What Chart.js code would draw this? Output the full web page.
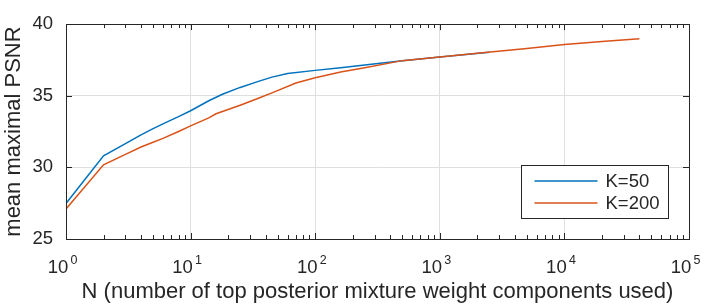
<!DOCTYPE html>
<html>
<head>
<meta charset="utf-8">
<script src="https://cdn.jsdelivr.net/npm/chart.js@4.4.1/dist/chart.umd.min.js"></script>
<style>
  html, body { margin: 0; padding: 0; background: #fff; }
  #wrap { width: 706px; height: 307px; }
</style>
</head>
<body>
<div id="wrap"><canvas id="canvas" width="706" height="307"></canvas></div>
<script>
// values
var k50N = [1, 2, 3, 4, 5, 6, 8, 10, 14, 18, 25, 35, 45, 60, 100, 160, 250, 500, 1000, 2500];
var k50Psnr = [27.48, 30.80, 31.66, 32.27, 32.70, 33.04, 33.54, 33.95, 34.65, 35.1, 35.58, 36.0, 36.3, 36.55, 36.77, 36.95, 37.15, 37.45, 37.7, 38.03];
var k200N = [1, 2, 3, 4, 5, 6, 8, 10, 14, 16, 25, 35, 45, 70, 100, 160, 250, 500, 1000, 2000, 5000, 10000, 20000, 40000];
var k200Psnr = [27.1, 30.18, 30.91, 31.42, 31.75, 32.02, 32.5, 32.9, 33.45, 33.74, 34.34, 34.82, 35.2, 35.89, 36.26, 36.66, 36.95, 37.45, 37.7, 37.96, 38.3, 38.58, 38.78, 38.98];

var xDecades = [1, 10, 100, 1000, 10000, 100000];
var yTicks = [25, 30, 35, 40];
var seriesLabels = ['K=50', 'K=200'];
var seriesColors = ['#0072bd', '#d95319'];

var axisColor = '#262626';
var gridColor = '#dfdfdf';
var fontFamily = "'Liberation Sans', Arial, sans-serif";

function toPoints(xs, ys) {
    return xs.map(function (x, i) { return {x: x, y: ys[i]}; });
}

var matlabAxes = {
    id: 'matlabAxes',
    afterDraw: function (chart) {
        var ctx = chart.ctx;
        var a = chart.chartArea;
        var xs = chart.scales.x;
        var ys = chart.scales.y;
        var maxX = xDecades[xDecades.length - 1];
        ctx.save();
        ctx.strokeStyle = axisColor;
        ctx.lineWidth = 1;

        // inner tick marks, top and bottom, left and right
        ctx.beginPath();
        for (var d = 0; d < xDecades.length; d++) {
            for (var m = 1; m < 10; m++) {
                var v = xDecades[d] * m;
                if (v > maxX) break;
                var px = Math.round(xs.getPixelForValue(v)) + 0.5;
                var len = (m == 1) ? 6 : 4;
                ctx.moveTo(px, a.bottom);
                ctx.lineTo(px, a.bottom - len);
                ctx.moveTo(px, a.top);
                ctx.lineTo(px, a.top + len);
            }
        }
        yTicks.forEach(function (t) {
            var py = Math.round(ys.getPixelForValue(t)) + 0.5;
            ctx.moveTo(a.left, py);
            ctx.lineTo(a.left + 6, py);
            ctx.moveTo(a.right, py);
            ctx.lineTo(a.right - 6, py);
        });
        ctx.stroke();

        ctx.strokeRect(Math.round(a.left) + 0.5, Math.round(a.top) + 0.5,
            Math.round(a.right - a.left), Math.round(a.bottom - a.top));

        // x tick labels as 10 with a raised exponent
        ctx.fillStyle = axisColor;
        ctx.textAlign = 'left';
        ctx.textBaseline = 'alphabetic';
        xDecades.forEach(function (v) {
            var px = xs.getPixelForValue(v);
            ctx.font = '18.5px ' + fontFamily;
            ctx.fillText('10', px - 18.3, a.bottom + 34);
            ctx.font = '12.5px ' + fontFamily;
            ctx.fillText(String(Math.round(Math.log10(v))), px + 4.5, a.bottom + 25);
        });

        // legend box in the lower right
        var bw = 147, bh = 53;
        var bx = Math.round(a.right - 21 - bw) + 0.5;
        var by = Math.round(a.bottom - 21 - bh) + 0.5;
        ctx.fillStyle = '#fff';
        ctx.fillRect(bx, by, bw, bh);
        ctx.strokeStyle = axisColor;
        ctx.strokeRect(bx, by, bw, bh);
        ctx.font = '18.5px ' + fontFamily;
        ctx.textBaseline = 'middle';
        chart.data.datasets.forEach(function (ds, i) {
            var ly = by + 15.5 + i * 22;
            ctx.strokeStyle = ds.borderColor;
            ctx.lineWidth = 1.5;
            ctx.beginPath();
            ctx.moveTo(bx + 13, ly);
            ctx.lineTo(bx + 76, ly);
            ctx.stroke();
            ctx.fillStyle = axisColor;
            ctx.fillText(ds.label, bx + 84, ly + 1);
        });
        ctx.restore();
    }
};

var ctx = document.getElementById('canvas').getContext('2d');
var myChart = new Chart(ctx, {
    type: 'line',
    data: {
        datasets: [{
            label: seriesLabels[0],
            data: toPoints(k50N, k50Psnr),
            borderColor: seriesColors[0],
            borderWidth: 1.5,
            pointRadius: 0,
            fill: false,
            order: 2
        }, {
            label: seriesLabels[1],
            data: toPoints(k200N, k200Psnr),
            borderColor: seriesColors[1],
            borderWidth: 1.5,
            pointRadius: 0,
            fill: false,
            order: 1
        }]
    },
    options: {
        responsive: false,
        animation: false,
        devicePixelRatio: 1,
        layout: { padding: { top: 13, right: 17, left: 0, bottom: 0 } },
        plugins: {
            legend: { display: false },
            tooltip: { enabled: false }
        },
        scales: {
            x: {
                type: 'logarithmic',
                min: xDecades[0],
                max: xDecades[xDecades.length - 1],
                afterBuildTicks: function (scale) {
                    scale.ticks = xDecades.map(function (v) { return {value: v}; });
                },
                afterFit: function (scale) { scale.height = 68; },
                ticks: { display: false },
                grid: { color: gridColor, drawTicks: false },
                border: { display: false },
                title: {
                    display: true,
                    text: 'N (number of top posterior mixture weight components used)',
                    color: axisColor,
                    font: { family: fontFamily, size: 22, lineHeight: 1.2 },
                    padding: { top: 0, bottom: 2 }
                }
            },
            y: {
                min: yTicks[0],
                max: yTicks[yTicks.length - 1],
                afterBuildTicks: function (scale) {
                    scale.ticks = yTicks.map(function (v) { return {value: v}; });
                },
                afterFit: function (scale) { scale.width = 66; },
                ticks: {
                    color: axisColor,
                    padding: 13,
                    font: { family: fontFamily, size: 18.5 }
                },
                grid: { color: gridColor, drawTicks: false },
                border: { display: false },
                title: {
                    display: true,
                    text: 'mean maximal PSNR',
                    color: axisColor,
                    font: { family: fontFamily, size: 22, lineHeight: 1.2 },
                    padding: { top: 1, bottom: 0 }
                }
            }
        }
    },
    plugins: [matlabAxes]
});
</script>
</body>
</html>
